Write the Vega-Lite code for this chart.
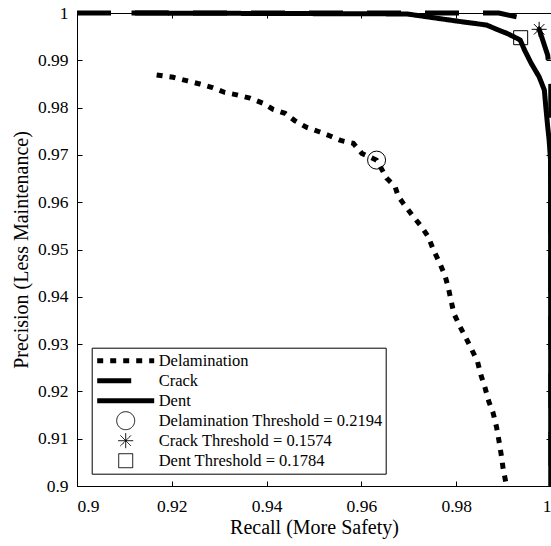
{
  "$schema": "https://vega.github.io/schema/vega-lite/v6.json",
  "width": 474,
  "height": 473,
  "autosize": {"type": "none"},
  "padding": {"left": 77, "top": 13, "right": 0, "bottom": 60},
  "background": "white",
  "config": {
    "font": "Liberation Serif",
    "style": {
      "guide-label": {"font": "Liberation Serif", "fill": "black"},
      "guide-title": {"font": "Liberation Serif", "fill": "black"}
    },
    "view": {"stroke": "black", "strokeWidth": 1},
    "axis": {
      "grid": false,
      "domainColor": "black",
      "tickColor": "black",
      "labelColor": "black",
      "titleColor": "black",
      "labelFont": "Liberation Serif",
      "titleFont": "Liberation Serif",
      "labelFontSize": 17.5,
      "titleFontSize": 20,
      "titleFontWeight": "normal",
      "tickSize": -5,
      "tickWidth": 1,
      "domainWidth": 1
    },
    "legend": {
      "orient": "none",
      "legendX": 14.7,
      "legendY": 334.7,
      "padding": 3,
      "strokeColor": "black",
      "strokeWidth": 1,
      "fillColor": "white",
      "labelFont": "Liberation Serif",
      "labelFontSize": 16.5,
      "labelColor": "black",
      "clipHeight": 20,
      "rowPadding": 0,
      "symbolOffset": 0,
      "labelOffset": 2,
      "symbolStrokeColor": "black",
      "symbolFillColor": "transparent",
      "labelLimit": 400
    }
  },
  "datasets": {
    "curves": [
      {"series": "Delamination", "i": 1, "recall": 0.9168, "precision": 0.9869},
      {"series": "Delamination", "i": 2, "recall": 0.9203, "precision": 0.9864},
      {"series": "Delamination", "i": 3, "recall": 0.9231, "precision": 0.9857},
      {"series": "Delamination", "i": 4, "recall": 0.9259, "precision": 0.985},
      {"series": "Delamination", "i": 5, "recall": 0.9284, "precision": 0.9843},
      {"series": "Delamination", "i": 6, "recall": 0.9312, "precision": 0.9832},
      {"series": "Delamination", "i": 7, "recall": 0.9337, "precision": 0.9827},
      {"series": "Delamination", "i": 8, "recall": 0.9365, "precision": 0.982},
      {"series": "Delamination", "i": 9, "recall": 0.9393, "precision": 0.9809},
      {"series": "Delamination", "i": 10, "recall": 0.9414, "precision": 0.9796},
      {"series": "Delamination", "i": 11, "recall": 0.9439, "precision": 0.9788},
      {"series": "Delamination", "i": 12, "recall": 0.946, "precision": 0.9772},
      {"series": "Delamination", "i": 13, "recall": 0.9485, "precision": 0.9758},
      {"series": "Delamination", "i": 14, "recall": 0.9511, "precision": 0.9749},
      {"series": "Delamination", "i": 15, "recall": 0.9534, "precision": 0.974},
      {"series": "Delamination", "i": 16, "recall": 0.9558, "precision": 0.973},
      {"series": "Delamination", "i": 17, "recall": 0.9583, "precision": 0.97245},
      {"series": "Delamination", "i": 18, "recall": 0.9601, "precision": 0.9703},
      {"series": "Delamination", "i": 19, "recall": 0.9632, "precision": 0.9689},
      {"series": "Delamination", "i": 20, "recall": 0.9639, "precision": 0.9677},
      {"series": "Delamination", "i": 21, "recall": 0.9653, "precision": 0.9651},
      {"series": "Delamination", "i": 22, "recall": 0.9671, "precision": 0.9633},
      {"series": "Delamination", "i": 23, "recall": 0.9678, "precision": 0.9612},
      {"series": "Delamination", "i": 24, "recall": 0.9688, "precision": 0.9598},
      {"series": "Delamination", "i": 25, "recall": 0.9709, "precision": 0.957},
      {"series": "Delamination", "i": 26, "recall": 0.9727, "precision": 0.9548},
      {"series": "Delamination", "i": 27, "recall": 0.9741, "precision": 0.9527},
      {"series": "Delamination", "i": 28, "recall": 0.9752, "precision": 0.9499},
      {"series": "Delamination", "i": 29, "recall": 0.9764, "precision": 0.9474},
      {"series": "Delamination", "i": 30, "recall": 0.9776, "precision": 0.9446},
      {"series": "Delamination", "i": 31, "recall": 0.9783, "precision": 0.9421},
      {"series": "Delamination", "i": 32, "recall": 0.9789, "precision": 0.9393},
      {"series": "Delamination", "i": 33, "recall": 0.9795, "precision": 0.9365},
      {"series": "Delamination", "i": 34, "recall": 0.9808, "precision": 0.9337},
      {"series": "Delamination", "i": 35, "recall": 0.9821, "precision": 0.9312},
      {"series": "Delamination", "i": 36, "recall": 0.9833, "precision": 0.9288},
      {"series": "Delamination", "i": 37, "recall": 0.9845, "precision": 0.9263},
      {"series": "Delamination", "i": 38, "recall": 0.9852, "precision": 0.9235},
      {"series": "Delamination", "i": 39, "recall": 0.9861, "precision": 0.9207},
      {"series": "Delamination", "i": 40, "recall": 0.9869, "precision": 0.9178},
      {"series": "Delamination", "i": 41, "recall": 0.9878, "precision": 0.9154},
      {"series": "Delamination", "i": 42, "recall": 0.9885, "precision": 0.9125},
      {"series": "Delamination", "i": 43, "recall": 0.989, "precision": 0.9097},
      {"series": "Delamination", "i": 44, "recall": 0.9895, "precision": 0.9066},
      {"series": "Delamination", "i": 45, "recall": 0.9899, "precision": 0.9037},
      {"series": "Delamination", "i": 46, "recall": 0.9905, "precision": 0.9006},
      {"series": "Delamination", "i": 47, "recall": 0.9906, "precision": 0.9},
      {"series": "Crack", "i": 1, "recall": 0.9, "precision": 1.0},
      {"series": "Crack", "i": 2, "recall": 0.989, "precision": 1.0},
      {"series": "Crack", "i": 3, "recall": 0.994, "precision": 0.9989},
      {"series": "Crack", "i": 4, "recall": 0.9975, "precision": 0.99655},
      {"series": "Crack", "i": 5, "recall": 0.9993, "precision": 0.9911},
      {"series": "Crack", "i": 6, "recall": 0.99995, "precision": 0.985},
      {"series": "Crack", "i": 7, "recall": 1.0, "precision": 0.9},
      {"series": "Dent", "i": 1, "recall": 0.9115, "precision": 1.0},
      {"series": "Dent", "i": 2, "recall": 0.9696, "precision": 0.9998},
      {"series": "Dent", "i": 3, "recall": 0.9738, "precision": 0.9992},
      {"series": "Dent", "i": 4, "recall": 0.9808, "precision": 0.9982},
      {"series": "Dent", "i": 5, "recall": 0.9864, "precision": 0.99746},
      {"series": "Dent", "i": 6, "recall": 0.9889, "precision": 0.9964},
      {"series": "Dent", "i": 7, "recall": 0.9907, "precision": 0.9957},
      {"series": "Dent", "i": 8, "recall": 0.9935, "precision": 0.9943},
      {"series": "Dent", "i": 9, "recall": 0.9944, "precision": 0.9922},
      {"series": "Dent", "i": 10, "recall": 0.9958, "precision": 0.9894},
      {"series": "Dent", "i": 11, "recall": 0.9975, "precision": 0.9865},
      {"series": "Dent", "i": 12, "recall": 0.9986, "precision": 0.9837},
      {"series": "Dent", "i": 13, "recall": 0.9989, "precision": 0.9802},
      {"series": "Dent", "i": 14, "recall": 0.9993, "precision": 0.976},
      {"series": "Dent", "i": 15, "recall": 0.9996, "precision": 0.9732},
      {"series": "Dent", "i": 16, "recall": 0.9999, "precision": 0.9689},
      {"series": "Dent", "i": 17, "recall": 0.99995, "precision": 0.9}
    ],
    "thresholds": [
      {"series": "Delamination Threshold = 0.2194", "recall": 0.9632, "precision": 0.9689},
      {"series": "Crack Threshold = 0.1574", "recall": 0.9975, "precision": 0.99655},
      {"series": "Dent Threshold = 0.1784", "recall": 0.9936, "precision": 0.99478}
    ]
  },
  "layer": [
    {
      "data": {"name": "curves"},
      "mark": {"type": "line", "color": "black", "strokeCap": "butt", "clip": false},
      "encoding": {
        "x": {
          "field": "recall", "type": "quantitative",
          "scale": {"domain": [0.9, 1], "nice": false, "zero": false},
          "axis": {"orient": "bottom", "title": "Recall (More Safety)", "values": [0.9, 0.92, 0.94, 0.96, 0.98, 1], "format": "~g", "labelPadding": 16, "titlePadding": 3}
        },
        "y": {
          "field": "precision", "type": "quantitative",
          "scale": {"domain": [0.9, 1], "nice": false, "zero": false},
          "axis": {"orient": "left", "title": "Precision (Less Maintenance)", "values": [0.9, 0.91, 0.92, 0.93, 0.94, 0.95, 0.96, 0.97, 0.98, 0.99, 1], "format": "~g", "labelPadding": 14, "titlePadding": 6}
        },
        "detail": {"field": "series", "type": "nominal"},
        "order": {"field": "i", "type": "quantitative"},
        "strokeDash": {
          "field": "series", "type": "nominal", "title": null,
          "scale": {
            "domain": ["Delamination", "Crack", "Dent", "Delamination Threshold = 0.2194", "Crack Threshold = 0.1574", "Dent Threshold = 0.1784"],
            "range": [[6, 7], [34, 24], [1, 0], [1, 0], [1, 0], [1, 0]]
          }
        },
        "strokeWidth": {
          "field": "series", "type": "nominal", "title": null,
          "scale": {
            "type": "ordinal",
            "domain": ["Delamination", "Crack", "Dent", "Delamination Threshold = 0.2194", "Crack Threshold = 0.1574", "Dent Threshold = 0.1784"],
            "range": [5, 5, 5, 1, 1, 1]
          }
        }
      }
    },
    {
      "data": {"name": "thresholds"},
      "mark": {"type": "point", "filled": false, "color": "black", "opacity": 1},
      "encoding": {
        "x": {"field": "recall", "type": "quantitative", "axis": null},
        "y": {"field": "precision", "type": "quantitative", "axis": null},
        "shape": {
          "field": "series", "type": "nominal", "title": null,
          "scale": {
            "domain": ["Delamination", "Crack", "Dent", "Delamination Threshold = 0.2194", "Crack Threshold = 0.1574", "Dent Threshold = 0.1784"],
            "range": ["stroke", "stroke", "stroke", "circle", "M-1,0L1,0M0,-1L0,1M-0.7,-0.7L0.7,0.7M-0.7,0.7L0.7,-0.7", "square"]
          }
        },
        "size": {
          "field": "series", "type": "nominal", "title": null,
          "scale": {
            "type": "ordinal",
            "domain": ["Delamination", "Crack", "Dent", "Delamination Threshold = 0.2194", "Crack Threshold = 0.1574", "Dent Threshold = 0.1784"],
            "range": [3249, 3249, 3249, 324, 225, 196]
          }
        },
        "strokeWidth": {
          "field": "series", "type": "nominal", "title": null,
          "scale": {
            "type": "ordinal",
            "domain": ["Delamination", "Crack", "Dent", "Delamination Threshold = 0.2194", "Crack Threshold = 0.1574", "Dent Threshold = 0.1784"],
            "range": [5, 5, 5, 1, 1, 1]
          }
        }
      }
    },
    {
      "data": {"name": "thresholds"},
      "mark": {"type": "point", "opacity": 0},
      "encoding": {
        "x": {"field": "recall", "type": "quantitative", "axis": {"orient": "top", "title": null, "labels": false, "values": [0.9, 0.92, 0.94, 0.96, 0.98, 1]}},
        "y": {"field": "precision", "type": "quantitative", "axis": {"orient": "right", "title": null, "labels": false, "values": [0.9, 0.91, 0.92, 0.93, 0.94, 0.95, 0.96, 0.97, 0.98, 0.99, 1]}}
      }
    }
  ],
  "resolve": {"axis": {"x": "independent", "y": "independent"}}
}
